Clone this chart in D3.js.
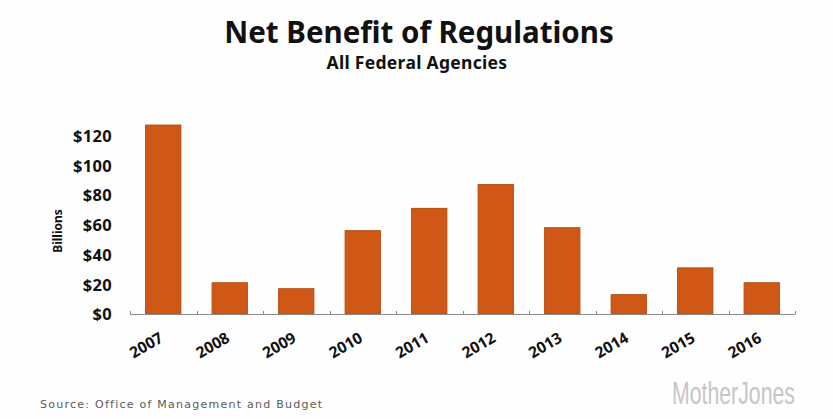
<!DOCTYPE html>
<html>
<head>
<meta charset="utf-8">
<script src="https://cdn.jsdelivr.net/npm/d3@7/dist/d3.min.js"></script>
<style>
  html, body { margin: 0; padding: 0; background: #fff; }
  svg { display: block; }
  .bold { font-family: "Noto Sans", "Open Sans", sans-serif; font-weight: 700; fill: #111; }
  .source { font-family: "DejaVu Sans", Verdana, sans-serif; fill: #5a5a5a; }
  .logo { font-family: "Liberation Sans", Arial, sans-serif; fill: #c6c6c6; }
</style>
</head>
<body>
<svg id="chart" width="833" height="419"></svg>
<script>
// Net benefit of regulations, all federal agencies (billions of dollars)
const years = ["2007", "2008", "2009", "2010", "2011", "2012", "2013", "2014", "2015", "2016"];
const netBenefit = [127, 21, 17, 56, 71, 87, 58, 13, 31, 21];
const yTicks = [0, 20, 40, 60, 80, 100, 120];

const svg = d3.select("#chart");
const W = 833, H = 419;
const plotLeft = 130, plotRight = 795, plotTop = 135.5, plotBottom = 314;

svg.append("rect").attr("width", W).attr("height", H).attr("fill", "#fefefe");

const x = d3.scaleBand().domain(years).range([plotLeft, plotRight]).paddingInner(0.47).paddingOuter(0.235);
const xEdges = d3.scaleLinear().domain([0, years.length]).range([plotLeft, plotRight]);
const y = d3.scaleLinear().domain([0, 120]).range([plotBottom, plotTop]);

// Titles
svg.append("text").attr("class", "bold").attr("x", 419).attr("y", 43).attr("text-anchor", "middle")
  .attr("font-size", 29.5).text("Net Benefit of Regulations");
svg.append("text").attr("class", "bold").attr("x", 417).attr("y", 69).attr("text-anchor", "middle")
  .attr("font-size", 17.5).attr("letter-spacing", 0.3).text("All Federal Agencies");

// Bars
svg.append("g").selectAll("rect").data(years).join("rect")
  .attr("x", d => x(d))
  .attr("width", x.bandwidth())
  .attr("y", (d, i) => y(netBenefit[i]))
  .attr("height", (d, i) => y(0) - y(netBenefit[i]))
  .attr("fill", "#d05816")
  .attr("stroke", "#b44b0e")
  .attr("stroke-width", 1);

// Baseline with ticks on category boundaries
const axisG = svg.append("g").attr("stroke", "#8a8a8a").attr("stroke-width", 1);
axisG.append("line").attr("x1", plotLeft).attr("x2", plotRight).attr("y1", plotBottom + 0.5).attr("y2", plotBottom + 0.5);
axisG.selectAll("line.tk").data(d3.range(years.length + 1)).join("line").attr("class", "tk")
  .attr("x1", i => Math.round(xEdges(i)) + 0.5).attr("x2", i => Math.round(xEdges(i)) + 0.5)
  .attr("y1", plotBottom - 3).attr("y2", plotBottom + 0.5);

// Y axis labels
const yAxis = d3.axisLeft(y).tickValues(yTicks).tickSize(0).tickPadding(0).tickFormat(d => "$" + d);
svg.append("g").attr("transform", `translate(112,0)`).call(yAxis)
  .call(g => g.select(".domain").remove())
  .call(g => g.selectAll("text").attr("class", "bold").attr("font-size", 16.5)
    .attr("letter-spacing", 0.3).attr("dy", "0.36em"));

svg.append("text").attr("class", "bold").attr("transform", "translate(62,231) rotate(-90)")
  .attr("text-anchor", "middle").attr("font-size", 12).text("Billions");

// X axis labels, rotated
svg.append("g").selectAll("text").data(years).join("text")
  .attr("class", "bold")
  .attr("transform", d => `translate(${x(d) + x.bandwidth() / 2 + 1},${plotBottom + 27}) rotate(-30)`)
  .attr("text-anchor", "end")
  .attr("font-size", 15.5)
  .text(d => d);

// Footer
svg.append("text").attr("class", "source").attr("x", 40).attr("y", 408)
  .attr("font-size", 11).attr("letter-spacing", 1.25).text("Source: Office of Management and Budget");

// Condensed grey wordmark, squeezed horizontally to its slot
const logo = svg.append("text").attr("class", "logo").attr("x", 0).attr("y", 0)
  .attr("font-size", 31).text("MotherJones");
const logoLen = logo.node().getComputedTextLength();
logo.attr("transform", `translate(672,404) scale(${123 / logoLen},1)`);
</script>
</body>
</html>
